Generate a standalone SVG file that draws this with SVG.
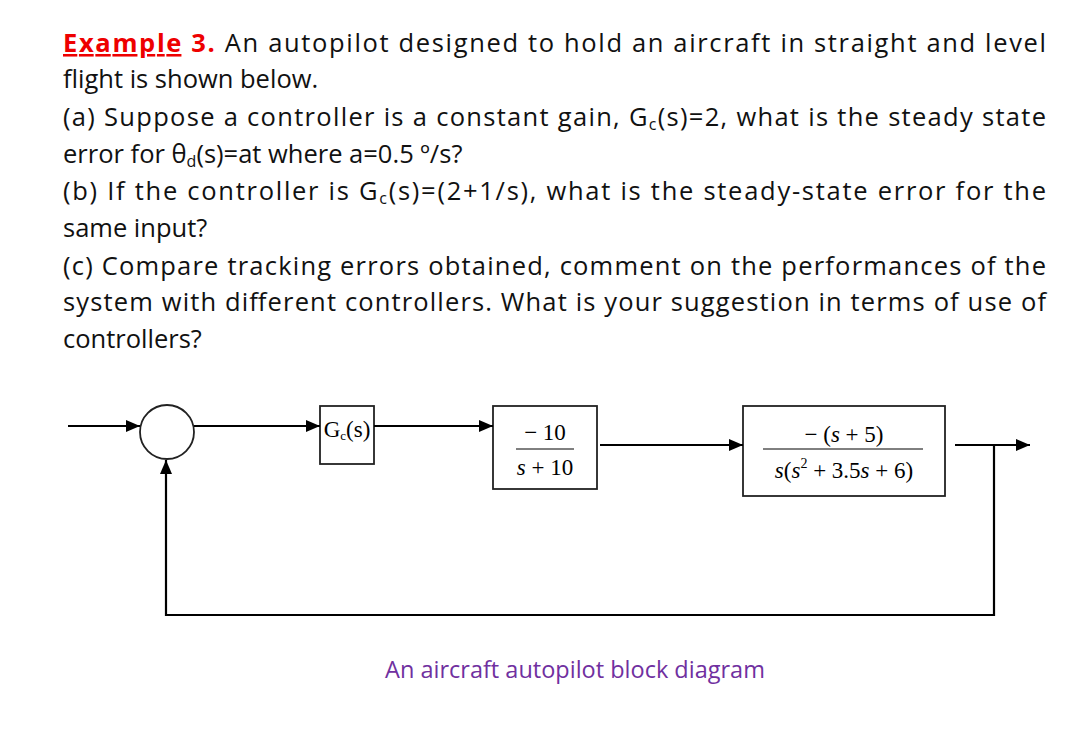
<svg xmlns="http://www.w3.org/2000/svg" width="1092" height="732" viewBox="0 0 1092 732">
<defs>
<marker id="ar" markerWidth="14" markerHeight="12" refX="14" refY="6" orient="auto" markerUnits="userSpaceOnUse"><path d="M0,0 L14,6 L0,12 Z" fill="#000"/></marker>
</defs>
<style>
.t{font-family:"Open Sans",sans-serif;font-size:25.5px;fill:#111}
.m{font-family:"Liberation Serif",serif;font-size:23px;fill:#000}
.b{fill:#fff;stroke:#222;stroke-width:1.8}
.c{stroke:#000;stroke-width:2.2;fill:none}
</style>
<rect width="1092" height="732" fill="#fff"/>
<g id="text">
<text class="t" x="63" y="52" textLength="983" lengthAdjust="spacing"><tspan fill="#e00" font-weight="bold" text-decoration="underline">Example</tspan><tspan fill="#e00" font-weight="bold"> 3.</tspan> An autopilot designed to hold an aircraft in straight and level</text>
<text class="t" x="63" y="88">flight is shown below.</text>
<text class="t" x="63" y="126" textLength="983" lengthAdjust="spacing">(a) Suppose a controller is a constant gain, G<tspan font-size="16" dy="4">c</tspan><tspan dy="-4">(s)=2, what is the steady state</tspan></text>
<text class="t" x="63" y="163">error for θ<tspan font-size="16" dy="4">d</tspan><tspan dy="-4">(s)=at where a=0.5 º/s?</tspan></text>
<text class="t" x="63" y="200" textLength="983" lengthAdjust="spacing">(b) If the controller is  G<tspan font-size="16" dy="4">c</tspan><tspan dy="-4">(s)=(2+1/s), what is the steady-state error for the</tspan></text>
<text class="t" x="63" y="237">same input?</text>
<text class="t" x="63" y="275" textLength="983" lengthAdjust="spacing">(c) Compare tracking errors obtained, comment on the performances of the</text>
<text class="t" x="63" y="311" textLength="983" lengthAdjust="spacing">system with different controllers. What is your suggestion in terms of use of</text>
<text class="t" x="63" y="348">controllers?</text>
<text x="575" y="678" text-anchor="middle" style="font-family:'Open Sans',sans-serif;font-size:23.5px;fill:#7030A0">An aircraft autopilot block diagram</text>
</g>
<g id="sum"><circle cx="167" cy="432" r="27" class="b"/></g>
<g id="gc"><rect x="320" y="406" width="54" height="58" class="b"/><text class="m" x="347" y="437" text-anchor="middle" font-size="19">G<tspan font-size="13" dy="3">c</tspan><tspan dy="-3">(s)</tspan></text></g>
<g id="g1"><rect x="493" y="406" width="104" height="83" class="b"/><text class="m" x="545" y="440" text-anchor="middle">− 10</text><line x1="516" y1="449" x2="574" y2="449" stroke="#000" stroke-width="1"/><text class="m" x="545" y="475" text-anchor="middle"><tspan font-style="italic">s</tspan> + 10</text></g>
<g id="g2"><rect x="743" y="406" width="202" height="90" class="b"/><text class="m" x="844" y="442" text-anchor="middle">− (<tspan font-style="italic">s</tspan> + 5)</text><line x1="763" y1="449" x2="923" y2="449" stroke="#000" stroke-width="1"/><text class="m" x="844" y="478" text-anchor="middle"><tspan font-style="italic">s</tspan>(<tspan font-style="italic">s</tspan><tspan font-size="14" dy="-10">2</tspan><tspan dy="10"> + 3.5</tspan><tspan font-style="italic">s</tspan> + 6)</text></g>
<g id="connectors">
<line x1="68" y1="426" x2="140" y2="426" class="c" marker-end="url(#ar)"/>
<line x1="194" y1="426" x2="320" y2="426" class="c" marker-end="url(#ar)"/>
<line x1="374" y1="426" x2="493" y2="426" class="c" marker-end="url(#ar)"/>
<line x1="600" y1="445" x2="743" y2="445" class="c" marker-end="url(#ar)"/>
<line x1="955" y1="445" x2="1030" y2="445" class="c" marker-end="url(#ar)"/>
<polyline points="994,445 994,615 166,615 166,460" class="c" marker-end="url(#ar)"/>
</g>
</svg>
